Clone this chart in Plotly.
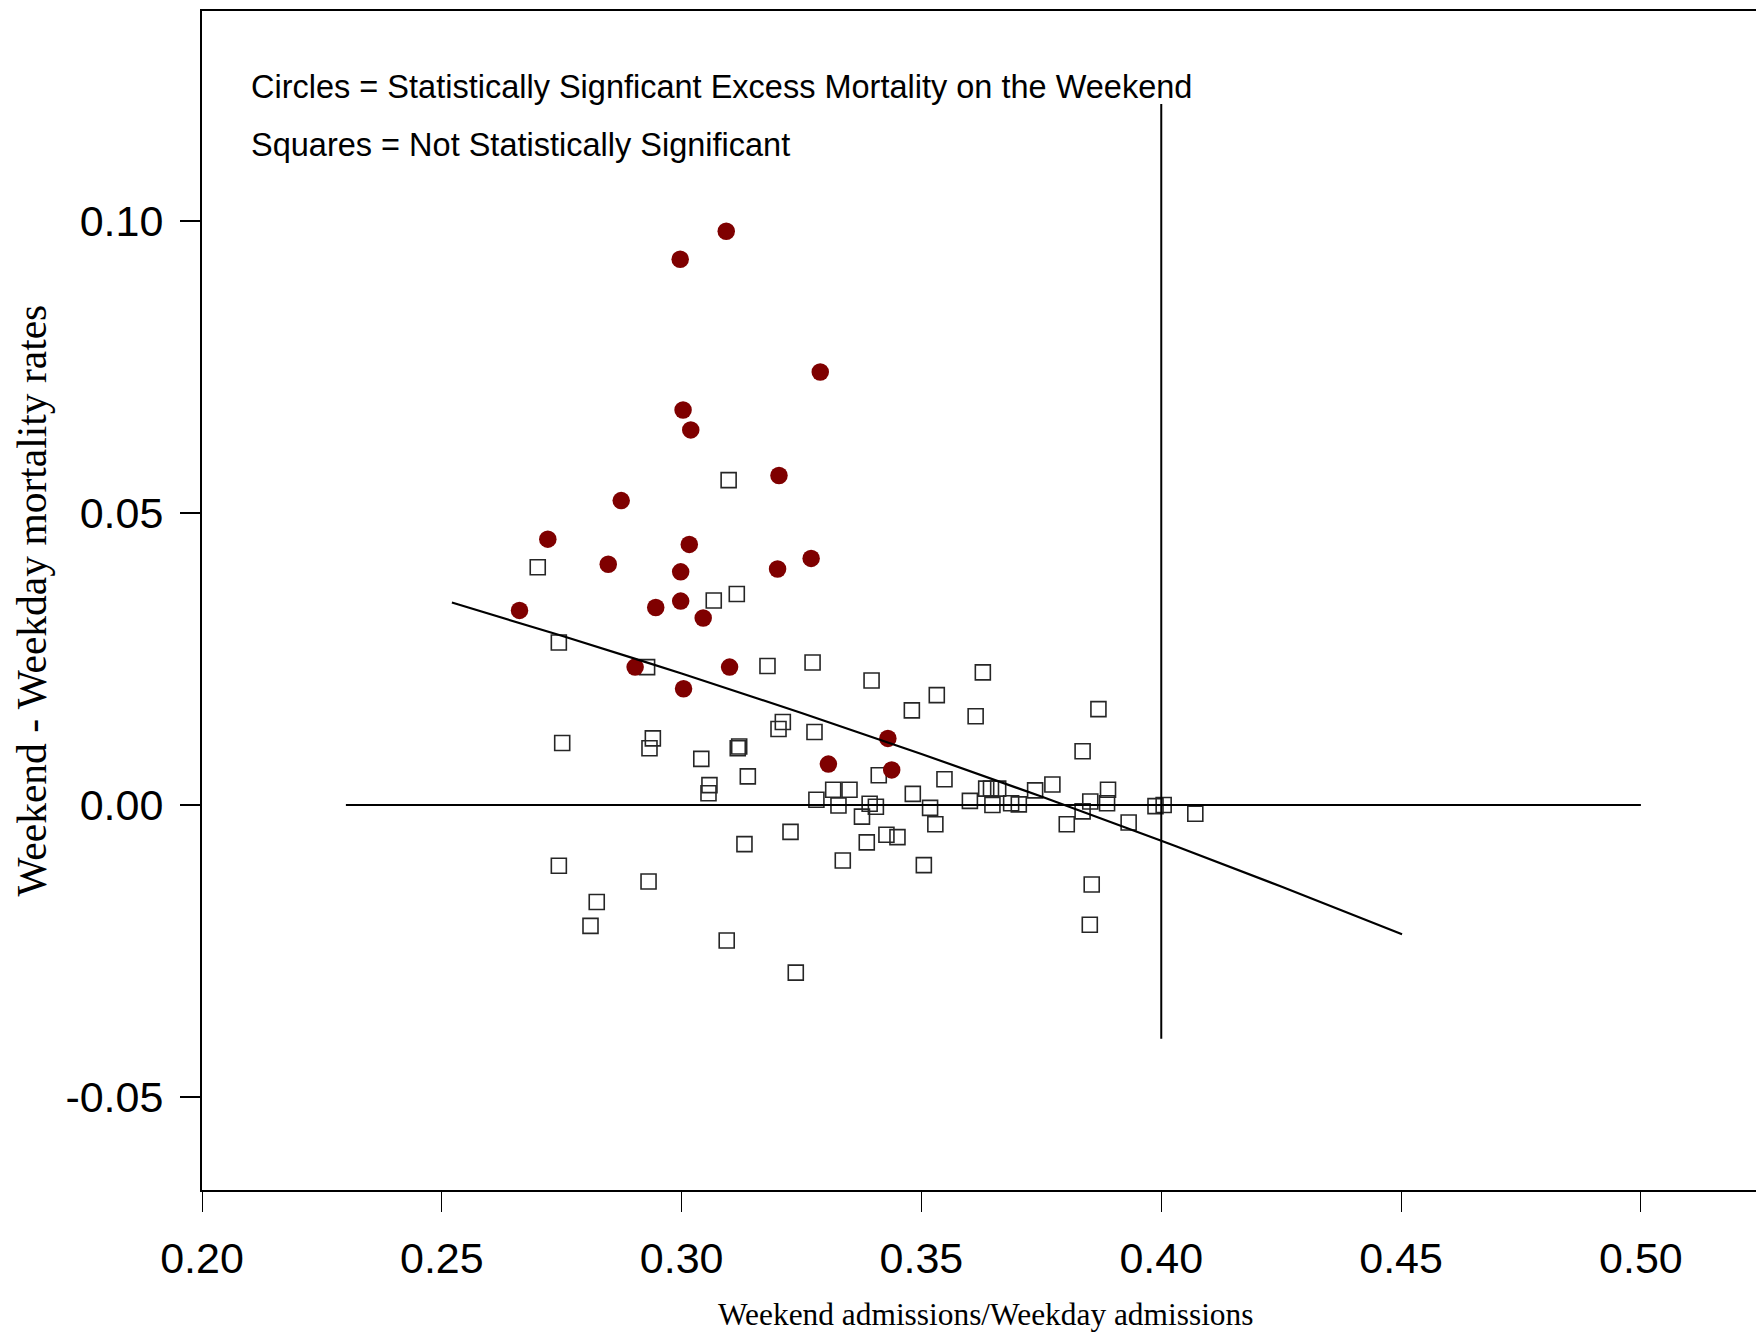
import plotly.graph_objects as go

# Statistically significant excess mortality (circles)
sig_x = [0.3093, 0.2997, 0.3289, 0.3003, 0.3019, 0.3203, 0.2874, 0.2721, 0.3016, 0.2847,
         0.2998, 0.3200, 0.3270, 0.2662, 0.2946, 0.2998, 0.3045, 0.2903, 0.3100, 0.3004,
         0.3430, 0.3306, 0.3438]
sig_y = [0.0982, 0.0934, 0.0741, 0.0676, 0.0642, 0.0564, 0.0521, 0.0455, 0.0446, 0.0412,
         0.0399, 0.0404, 0.0422, 0.0333, 0.0338, 0.0349, 0.0320, 0.0236, 0.0236, 0.0199,
         0.0114, 0.0070, 0.0060]

# Not statistically significant (squares)
ns_x = [0.3098, 0.2700, 0.3067, 0.3115, 0.2744, 0.2928, 0.3179, 0.3273, 0.3396, 0.3211,
        0.3202, 0.3277, 0.2751, 0.2940, 0.2933, 0.3120, 0.3117, 0.3041, 0.3138, 0.3058,
        0.3056, 0.3411, 0.3281, 0.3316, 0.3350, 0.3327, 0.3392, 0.3405, 0.3376, 0.3427,
        0.3450, 0.3386, 0.3227, 0.3131, 0.3336, 0.2744, 0.2931, 0.2823, 0.2810, 0.3094,
        0.3238, 0.3628, 0.3532, 0.3480, 0.3613, 0.3869, 0.3836, 0.3548, 0.3482, 0.3518,
        0.3529, 0.3505, 0.3601, 0.3635, 0.3645, 0.3660, 0.3648, 0.3687, 0.3703, 0.3737,
        0.3773, 0.3803, 0.3836, 0.3852, 0.3889, 0.3887, 0.3932, 0.3988, 0.4005, 0.4071,
        0.3855, 0.3851]
ns_y = [0.0556, 0.0407, 0.0350, 0.0361, 0.0278, 0.0236, 0.0238, 0.0244, 0.0213, 0.0142,
        0.0130, 0.0125, 0.0106, 0.0114, 0.0097, 0.0100, 0.0097, 0.0079, 0.0049, 0.0034,
        0.0020, 0.0051, 0.0009, 0.0026, 0.0026, -0.0001, 0.0002, -0.0003, -0.0020, -0.0051,
        -0.0055, -0.0064, -0.0046, -0.0067, -0.0095, -0.0104, -0.0131, -0.0166, -0.0207, -0.0232,
        -0.0287, 0.0227, 0.0188, 0.0162, 0.0152, 0.0164, 0.0092, 0.0044, 0.0019, -0.0005,
        -0.0033, -0.0103, 0.0007, 0.0028, 0.0028, 0.0028, 0.0000, 0.0003, 0.0001, 0.0025,
        0.0035, -0.0033, -0.0011, 0.0006, 0.0026, 0.0003, -0.0030, -0.0002, 0.0000, -0.0015,
        -0.0136, -0.0205]

# Fitted curve
fit_x = [0.2521, 0.275, 0.300, 0.325, 0.350, 0.375, 0.400, 0.425, 0.4502]
fit_y = [0.03465, 0.02896, 0.02250, 0.01575, 0.00874, 0.00145, -0.00612, -0.01396, -0.02214]

# Reference lines
hline_x = [0.23, 0.50]
hline_y = [0.0, 0.0]
vline_x = [0.40, 0.40]
vline_y = [-0.04, 0.12]

x_ticks = [0.20, 0.25, 0.30, 0.35, 0.40, 0.45, 0.50]
x_tick_labels = ["0.20", "0.25", "0.30", "0.35", "0.40", "0.45", "0.50"]
y_ticks = [-0.05, 0.0, 0.05, 0.10]
y_tick_labels = ["-0.05", "0.00", "0.05", "0.10"]

note_lines = ["Circles = Statistically Signficant Excess Mortality on the Weekend",
              "Squares = Not Statistically Significant"]
x_title = "Weekend admissions/Weekday admissions"
y_title = "Weekend - Weekday mortality rates"

W, H = 1756, 1334
ML, MR, MT, MB = 202, 0, 11, 144

fig = go.Figure()
fig.add_trace(go.Scatter(x=ns_x, y=ns_y, mode="markers",
                         marker=dict(symbol="square-open", size=15, color="#262626",
                                     line=dict(width=1.6, color="#262626")),
                         showlegend=False, hoverinfo="x+y"))
fig.add_trace(go.Scatter(x=sig_x, y=sig_y, mode="markers",
                         marker=dict(symbol="circle", size=17.5, color="#7f0000",
                                     line=dict(width=0)),
                         showlegend=False, hoverinfo="x+y"))
for lx, ly in [(hline_x, hline_y), (vline_x, vline_y)]:
    fig.add_trace(go.Scatter(x=lx, y=ly, mode="lines",
                             line=dict(color="black", width=2),
                             showlegend=False, hoverinfo="skip"))
fig.add_trace(go.Scatter(x=fit_x, y=fit_y, mode="lines",
                         line=dict(color="black", width=2.2, shape="spline"),
                         showlegend=False, hoverinfo="skip"))

tick_font = dict(family="Liberation Sans, Arial, sans-serif", size=43, color="black")
fig.update_xaxes(range=[0.20, 0.524], tickvals=x_ticks, ticktext=x_tick_labels,
                 ticks="outside", ticklen=20, tickwidth=1.2, tickcolor="black",
                 showline=True, linecolor="black", linewidth=2, mirror=True,
                 showgrid=False, zeroline=False, tickfont=tick_font,
                 ticklabelstandoff=9)
fig.update_yaxes(range=[-0.0659, 0.1359], tickvals=y_ticks, ticktext=y_tick_labels,
                 ticks="outside", ticklen=20, tickwidth=1.5, tickcolor="black",
                 showline=True, linecolor="black", linewidth=2, mirror=False,
                 showgrid=False, zeroline=False, tickfont=tick_font,
                 ticklabelstandoff=8)

note_font = dict(family="Liberation Sans, Arial, sans-serif", size=32.5, color="black")
plot_h = H - MT - MB
plot_w = W - ML - MR
annotations = [
    dict(xref="paper", yref="paper", x=(249 - ML) / plot_w, y=1 - (87 - MT) / plot_h,
         xanchor="left", yanchor="middle", text=note_lines[0], showarrow=False, font=note_font),
    dict(xref="paper", yref="paper", x=(249 - ML) / plot_w, y=1 - (145 - MT) / plot_h,
         xanchor="left", yanchor="middle", text=note_lines[1], showarrow=False, font=note_font),
    dict(xref="paper", yref="paper", x=(985 - ML) / plot_w, y=0, yshift=-(1314 - (H - MB)),
         xanchor="center", yanchor="middle", text=x_title, showarrow=False,
         font=dict(family="Liberation Serif, Times New Roman, serif", size=31.4, color="black")),
    dict(xref="paper", yref="paper", x=0, xshift=-(ML - 31), y=0.5,
         xanchor="center", yanchor="middle", text=y_title, showarrow=False, textangle=-90,
         font=dict(family="Liberation Serif, Times New Roman, serif", size=41.5, color="black")),
]

fig.update_layout(width=W, height=H, margin=dict(l=ML, r=MR, t=MT, b=MB),
                  plot_bgcolor="white", paper_bgcolor="white",
                  annotations=annotations, showlegend=False)

fig.write_html("out.html")
